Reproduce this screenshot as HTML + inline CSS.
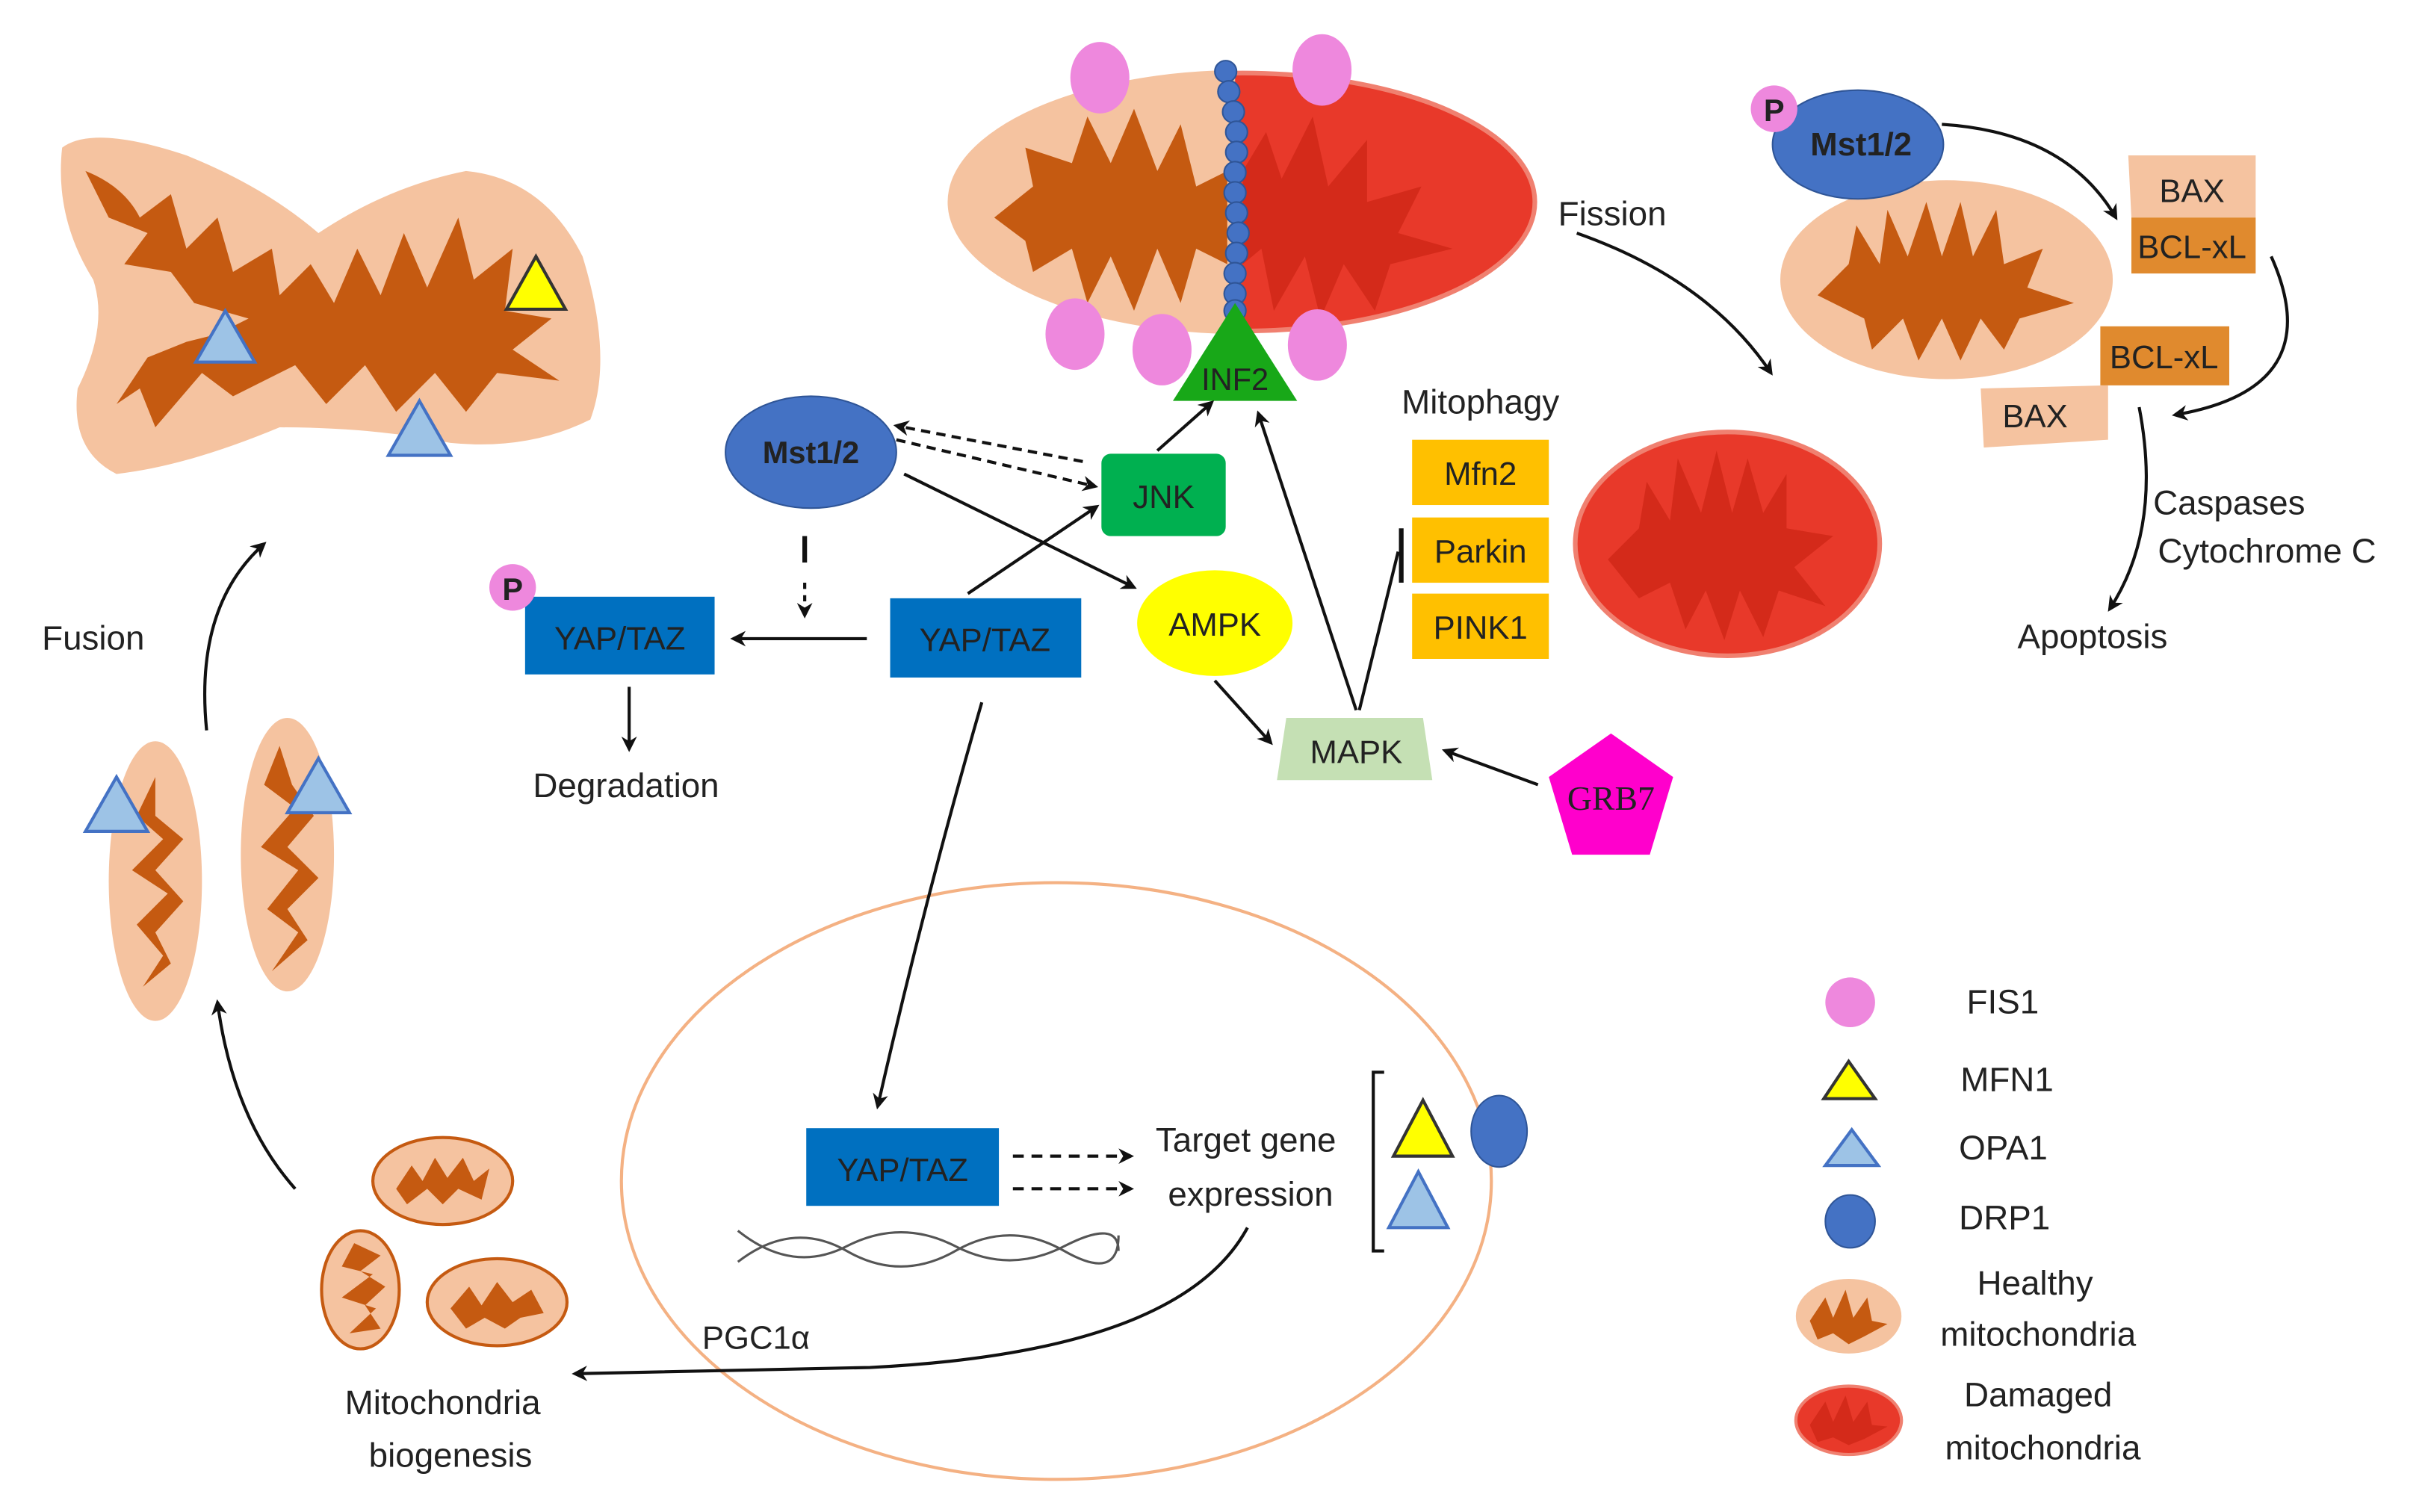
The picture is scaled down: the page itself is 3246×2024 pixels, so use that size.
<!DOCTYPE html>
<html><head><meta charset="utf-8"><style>
html,body{margin:0;padding:0;background:#fff}
svg{display:block}
text{font-family:"Liberation Sans",sans-serif;fill:#222}
</style></head><body>
<svg width="3246" height="2024" viewBox="0 0 1561 973" preserveAspectRatio="none" xmlns="http://www.w3.org/2000/svg">
<defs>
<marker id="ah" markerWidth="10" markerHeight="10" refX="8" refY="5" orient="auto" markerUnits="userSpaceOnUse"><path d="M0,0 L10,5 L0,10 L3,5 z" fill="#111"/></marker>
<clipPath id="rh"><rect x="795" y="0" width="300" height="300"/></clipPath>
<clipPath id="lh"><rect x="500" y="0" width="295" height="300"/></clipPath>
</defs>
<rect width="1561" height="973" fill="#fff"/>

<!-- top-left big mito -->
<path d="M40,95 Q60,80 120,100 Q170,120 205,150 Q250,120 300,110 Q350,115 375,165 Q395,230 380,270 Q340,290 290,285 Q240,275 180,275 Q120,300 75,305 Q45,290 50,250 Q70,210 60,180 Q35,140 40,95 z" fill="#f5c3a0"/>
<path d="M55,110 Q80,120 90,140 L110,125 L120,160 L140,140 L150,175 L175,160 L180,190 L200,170 L215,195 L230,160 L245,190 L260,150 L275,185 L295,140 L305,180 L330,160 L325,200 L355,205 L330,225 L360,245 L320,240 L300,265 L280,240 L255,265 L235,235 L210,260 L190,235 L150,255 L130,240 L100,275 L90,250 L75,260 L95,230 L120,220 L140,215 L160,205 L125,195 L110,175 L80,170 L95,150 L70,140 z" fill="#c55a11"/>
<polygon points="145,200 126,233 164,233" fill="#9dc3e6" stroke="#4472c4" stroke-width="2"/>
<polygon points="270,258 250,293 290,293" fill="#9dc3e6" stroke="#4472c4" stroke-width="2"/>
<polygon points="345,165 326,199 364,199" fill="#ffff00" stroke="#333" stroke-width="2"/>

<text x="27" y="418" font-size="22">Fusion</text>
<path d="M133,470 Q125,390 170,350" fill="none" stroke="#111" stroke-width="2" marker-end="url(#ah)"/>

<!-- two elongated mito -->
<ellipse cx="100" cy="567" rx="30" ry="90" fill="#f5c3a0"/>
<path d="M100,500 L88,525 L105,540 L85,560 L108,575 L88,595 L105,615 L92,635 L110,620 L100,600 L118,580 L100,560 L118,540 L100,525 z" fill="#c55a11"/>
<ellipse cx="185" cy="550" rx="30" ry="88" fill="#f5c3a0"/>
<path d="M180,480 L170,505 L190,520 L168,545 L192,560 L172,585 L192,600 L175,625 L198,605 L185,585 L205,565 L185,545 L202,525 L188,505 z" fill="#c55a11"/>
<polygon points="75,500 55,535 95,535" fill="#9dc3e6" stroke="#4472c4" stroke-width="2"/>
<polygon points="205,488 185,523 225,523" fill="#9dc3e6" stroke="#4472c4" stroke-width="2"/>
<path d="M190,765 Q150,720 140,645" fill="none" stroke="#111" stroke-width="2" marker-end="url(#ah)"/>

<!-- small mitos -->
<ellipse cx="285" cy="760" rx="45" ry="28" fill="#f5c3a0" stroke="#c55a11" stroke-width="2"/>
<path d="M255,765 L265,750 L272,760 L280,745 L288,758 L298,745 L305,760 L315,752 L310,772 L295,765 L285,775 L275,765 L262,775 z" fill="#c55a11"/>
<ellipse cx="232" cy="830" rx="25" ry="38" fill="#f5c3a0" stroke="#c55a11" stroke-width="2"/>
<path d="M228,800 L220,815 L240,820 L220,835 L242,842 L225,858 L245,855 L235,840 L248,828 L232,818 L245,808 z" fill="#c55a11"/>
<ellipse cx="320" cy="838" rx="45" ry="28" fill="#f5c3a0" stroke="#c55a11" stroke-width="2"/>
<path d="M290,842 L302,828 L310,840 L320,825 L330,838 L342,830 L350,845 L335,848 L325,855 L312,848 L300,855 z" fill="#c55a11"/>
<text x="285" y="910" font-size="22" text-anchor="middle">Mitochondria</text>
<text x="290" y="944" font-size="22" text-anchor="middle">biogenesis</text>

<!-- nucleus -->
<ellipse cx="680" cy="760" rx="280" ry="192" fill="none" stroke="#f4b183" stroke-width="2"/>

<!-- top center mito -->
<ellipse cx="800" cy="130" rx="190" ry="85" fill="#f5c3a0" clip-path="url(#lh)"/>
<ellipse cx="800" cy="130" rx="188" ry="83" fill="#e8392a" stroke="#f08070" stroke-width="3" clip-path="url(#rh)"/>
<path d="M640,140 L665,120 L660,95 L690,105 L700,75 L715,105 L730,70 L745,110 L760,80 L770,120 L790,110 L790,170 L770,160 L760,195 L745,160 L730,200 L715,165 L700,195 L690,160 L665,175 L660,155 z" fill="#c55a11"/>
<path d="M800,110 L815,85 L825,115 L845,75 L855,120 L880,90 L880,130 L915,120 L900,150 L935,160 L895,170 L885,200 L865,170 L850,205 L840,165 L820,200 L812,160 L800,170 z" fill="#d42a1a"/>
<g fill="#4472c4" stroke="#2f5597" stroke-width="1">
<circle cx="789" cy="46" r="7"/><circle cx="791" cy="59" r="7"/><circle cx="794" cy="72" r="7"/><circle cx="796" cy="85" r="7"/><circle cx="796" cy="98" r="7"/><circle cx="795" cy="111" r="7"/><circle cx="795" cy="124" r="7"/><circle cx="796" cy="137" r="7"/><circle cx="797" cy="150" r="7"/><circle cx="796" cy="163" r="7"/><circle cx="795" cy="176" r="7"/><circle cx="795" cy="189" r="7"/><circle cx="795" cy="200" r="7"/>
</g>
<g fill="#ee88dd">
<ellipse cx="708" cy="50" rx="19" ry="23"/><ellipse cx="851" cy="45" rx="19" ry="23"/><ellipse cx="692" cy="215" rx="19" ry="23"/><ellipse cx="748" cy="225" rx="19" ry="23"/><ellipse cx="848" cy="222" rx="19" ry="23"/>
</g>
<polygon points="795,195 755,258 835,258" fill="#18a818"/>
<text x="795" y="251" font-size="20" text-anchor="middle">INF2</text>

<!-- Fission -->
<text x="1003" y="145" font-size="22">Fission</text>
<path d="M1015,150 Q1100,180 1140,240" fill="none" stroke="#111" stroke-width="2" marker-end="url(#ah)"/>

<!-- Mst1/2 center -->
<ellipse cx="522" cy="291" rx="55" ry="36" fill="#4472c4" stroke="#2f5597"/>
<text x="522" y="298" font-size="20" font-weight="bold" text-anchor="middle">Mst1/2</text>
<rect x="709" y="292" width="80" height="53" rx="6" fill="#00b050"/>
<text x="749" y="327" font-size="21" text-anchor="middle">JNK</text>
<line x1="697" y1="297" x2="577" y2="274" stroke="#111" stroke-width="2" stroke-dasharray="6,4" marker-end="url(#ah)"/>
<line x1="577" y1="283" x2="705" y2="313" stroke="#111" stroke-width="2" stroke-dasharray="6,4" marker-end="url(#ah)"/>
<line x1="582" y1="305" x2="730" y2="378" stroke="#111" stroke-width="2" marker-end="url(#ah)"/>
<line x1="518" y1="345" x2="518" y2="362" stroke="#111" stroke-width="3"/>
<line x1="518" y1="375" x2="518" y2="396" stroke="#111" stroke-width="2" stroke-dasharray="4,4" marker-end="url(#ah)"/>

<rect x="338" y="384" width="122" height="50" fill="#0070c0"/>
<text x="399" y="418" font-size="21" text-anchor="middle">YAP/TAZ</text>
<circle cx="330" cy="378" r="15" fill="#ee88dd"/>
<text x="330" y="386" font-size="20" font-weight="bold" text-anchor="middle">P</text>
<rect x="573" y="385" width="123" height="51" fill="#0070c0"/>
<text x="634" y="419" font-size="21" text-anchor="middle">YAP/TAZ</text>
<line x1="558" y1="411" x2="472" y2="411" stroke="#111" stroke-width="2" marker-end="url(#ah)"/>
<line x1="405" y1="442" x2="405" y2="482" stroke="#111" stroke-width="2" marker-end="url(#ah)"/>
<text x="403" y="513" font-size="22" text-anchor="middle">Degradation</text>
<line x1="623" y1="382" x2="706" y2="326" stroke="#111" stroke-width="2" marker-end="url(#ah)"/>
<line x1="745" y1="290" x2="780" y2="259" stroke="#111" stroke-width="2" marker-end="url(#ah)"/>

<ellipse cx="782" cy="401" rx="50" ry="34" fill="#ffff00"/>
<text x="782" y="409" font-size="21" text-anchor="middle">AMPK</text>
<polygon points="828,462 916,462 922,502 822,502" fill="#c5e0b4"/>
<text x="873" y="491" font-size="21" text-anchor="middle">MAPK</text>
<line x1="782" y1="438" x2="818" y2="478" stroke="#111" stroke-width="2" marker-end="url(#ah)"/>
<polygon points="1037,472 1077,500 1062,550 1012,550 997,500" fill="#ff00cc"/>
<text x="1037" y="521" font-size="22" text-anchor="middle" style="font-family:'Liberation Serif',serif">GRB7</text>
<line x1="990" y1="505" x2="930" y2="483" stroke="#111" stroke-width="2" marker-end="url(#ah)"/>
<line x1="873" y1="457" x2="810" y2="266" stroke="#111" stroke-width="2" marker-end="url(#ah)"/>
<line x1="875" y1="457" x2="900" y2="355" stroke="#111" stroke-width="2"/>
<line x1="902" y1="340" x2="902" y2="375" stroke="#111" stroke-width="3"/>

<text x="953" y="266" font-size="22" text-anchor="middle">Mitophagy</text>
<rect x="909" y="283" width="88" height="42" fill="#ffc000"/><text x="953" y="312" font-size="21" text-anchor="middle">Mfn2</text>
<rect x="909" y="333" width="88" height="42" fill="#ffc000"/><text x="953" y="362" font-size="21" text-anchor="middle">Parkin</text>
<rect x="909" y="382" width="88" height="42" fill="#ffc000"/><text x="953" y="411" font-size="21" text-anchor="middle">PINK1</text>

<!-- damaged mito -->
<ellipse cx="1112" cy="350" rx="98" ry="72" fill="#e8392a" stroke="#f08070" stroke-width="3"/>
<path d="M1035,360 L1055,340 L1060,310 L1075,335 L1080,295 L1095,330 L1105,290 L1115,330 L1125,295 L1135,330 L1150,305 L1150,340 L1180,345 L1155,365 L1175,390 L1145,380 L1135,410 L1120,380 L1110,412 L1098,380 L1085,405 L1075,375 L1055,385 z" fill="#d42a1a"/>

<!-- right top -->
<ellipse cx="1253" cy="180" rx="107" ry="64" fill="#f5c3a0"/>
<path d="M1170,190 L1190,170 L1195,145 L1210,170 L1215,135 L1228,165 L1240,130 L1250,165 L1262,130 L1270,165 L1285,135 L1290,170 L1315,160 L1305,185 L1335,195 L1300,205 L1290,225 L1275,205 L1262,232 L1250,205 L1235,232 L1225,205 L1205,225 L1200,205 z" fill="#c55a11"/>
<ellipse cx="1196" cy="93" rx="55" ry="35" fill="#4472c4" stroke="#2f5597"/>
<text x="1198" y="100" font-size="21" font-weight="bold" text-anchor="middle">Mst1/2</text>
<circle cx="1142" cy="70" r="15" fill="#ee88dd"/>
<text x="1142" y="78" font-size="20" font-weight="bold" text-anchor="middle">P</text>
<path d="M1250,80 Q1330,85 1362,140" fill="none" stroke="#111" stroke-width="2" marker-end="url(#ah)"/>
<polygon points="1370,100 1452,100 1452,140 1372,140" fill="#f5c3a0"/>
<text x="1411" y="130" font-size="21" text-anchor="middle">BAX</text>
<rect x="1372" y="140" width="80" height="36" fill="#e08a2e"/>
<text x="1411" y="166" font-size="21" text-anchor="middle">BCL-xL</text>
<rect x="1352" y="210" width="83" height="38" fill="#e08a2e"/>
<text x="1393" y="237" font-size="21" text-anchor="middle">BCL-xL</text>
<polygon points="1275,250 1357,248 1357,283 1277,288" fill="#f5c3a0"/>
<text x="1310" y="275" font-size="21" text-anchor="middle">BAX</text>
<path d="M1462,165 Q1500,250 1400,267" fill="none" stroke="#111" stroke-width="2" marker-end="url(#ah)"/>
<path d="M1377,262 Q1392,340 1358,392" fill="none" stroke="#111" stroke-width="2" marker-end="url(#ah)"/>
<text x="1386" y="331" font-size="22">Caspases</text>
<text x="1389" y="362" font-size="22">Cytochrome C</text>
<text x="1347" y="417" font-size="22" text-anchor="middle">Apoptosis</text>

<!-- YAP in nucleus -->
<path d="M632,452 Q595,580 565,712" fill="none" stroke="#111" stroke-width="2" marker-end="url(#ah)"/>
<rect x="519" y="726" width="124" height="50" fill="#0070c0"/>
<text x="581" y="760" font-size="21" text-anchor="middle">YAP/TAZ</text>
<line x1="652" y1="744" x2="728" y2="744" stroke="#111" stroke-width="2" stroke-dasharray="7,5" marker-end="url(#ah)"/>
<line x1="652" y1="765" x2="728" y2="765" stroke="#111" stroke-width="2" stroke-dasharray="7,5" marker-end="url(#ah)"/>
<text x="802" y="741" font-size="22" text-anchor="middle">Target gene</text>
<text x="805" y="776" font-size="22" text-anchor="middle">expression</text>
<path d="M475,792 Q510,820 545,802 T615,802 T685,802 T720,805" fill="none" stroke="#555" stroke-width="1.5"/>
<path d="M475,812 Q510,785 545,805 T615,805 T685,805 T720,795" fill="none" stroke="#555" stroke-width="1.5"/>
<path d="M891,690 L884,690 L884,805 L891,805" fill="none" stroke="#111" stroke-width="2"/>
<polygon points="916,708 897,744 935,744" fill="#ffff00" stroke="#333" stroke-width="2"/>
<ellipse cx="965" cy="728" rx="18" ry="23" fill="#4472c4" stroke="#2f5597"/>
<polygon points="913,754 894,790 932,790" fill="#9dc3e6" stroke="#4472c4" stroke-width="2"/>
<path d="M803,790 Q760,870 560,880 L370,884" fill="none" stroke="#111" stroke-width="2" marker-end="url(#ah)"/>
<text x="452" y="868" font-size="21">PGC1α</text>

<!-- legend -->
<circle cx="1191" cy="645" r="16" fill="#ee88dd"/>
<text x="1266" y="652" font-size="22">FIS1</text>
<polygon points="1190,683 1174,707 1207,707" fill="#ffff00" stroke="#333" stroke-width="2"/>
<text x="1262" y="702" font-size="22">MFN1</text>
<polygon points="1192,727 1175,750 1209,750" fill="#9dc3e6" stroke="#4472c4" stroke-width="2"/>
<text x="1261" y="746" font-size="22">OPA1</text>
<ellipse cx="1191" cy="786" rx="16" ry="17" fill="#4472c4" stroke="#2f5597"/>
<text x="1261" y="791" font-size="22">DRP1</text>
<ellipse cx="1190" cy="847" rx="34" ry="24" fill="#f5c3a0"/>
<path d="M1165,850 L1175,835 L1180,848 L1188,830 L1193,848 L1202,835 L1205,850 L1215,852 L1200,860 L1190,865 L1180,858 L1170,862 z" fill="#c55a11"/>
<text x="1310" y="833" font-size="22" text-anchor="middle">Healthy</text>
<text x="1312" y="866" font-size="22" text-anchor="middle">mitochondria</text>
<ellipse cx="1190" cy="914" rx="34" ry="22" fill="#e8392a" stroke="#f08070" stroke-width="2"/>
<path d="M1165,917 L1175,902 L1180,915 L1188,898 L1193,915 L1202,902 L1205,917 L1215,918 L1200,926 L1190,930 L1180,925 L1170,928 z" fill="#d42a1a"/>
<text x="1312" y="905" font-size="22" text-anchor="middle">Damaged</text>
<text x="1315" y="939" font-size="22" text-anchor="middle">mitochondria</text>
</svg>
</body></html>
